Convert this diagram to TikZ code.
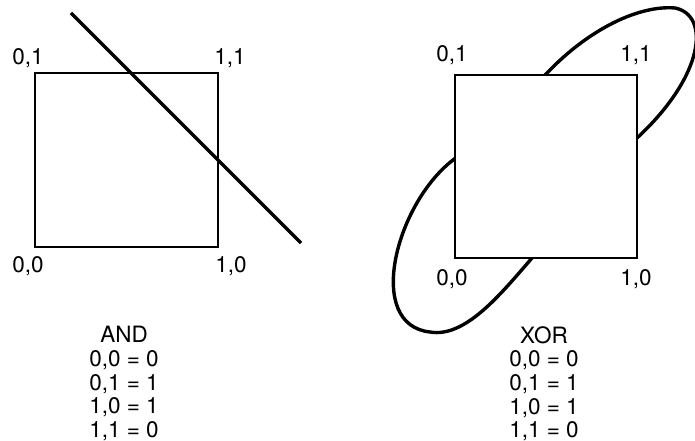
\documentclass[tikz,border=0pt]{standalone}
\usepackage{fontspec}
\setmainfont{TeX Gyre Heros}
\usepackage{tikz}

\begin{document}
\begin{tikzpicture}[x=1pt,y=-1pt,line width=2.8pt,
    every node/.style={inner sep=0pt,font=\fontsize{22.5}{23.6}\selectfont},
    corner/.style={anchor=base},
    table/.style={anchor=north,align=center},
    box/.style={draw,fill=white},
    curve/.style={line width=3.4pt,line join=round}]
  \useasboundingbox (0,0) rectangle (695,441);

  % AND: one straight cut
  \draw[box] (35,73) rectangle (218,247);
  \coordinate (cutA) at (71,13);
  \coordinate (cutB) at (301,243);
  \draw[curve] (cutA) -- (cutB);
  \foreach \name/\x/\y/\txt in {a01/28/65/{0,1},a11/230/65/{1,1},
                                a00/28/272/{0,0},a10/231/272/{1,0}}{
    \node[corner] (\name) at (\x,\y) {\txt};
  }
  \node[table] (andtab) at (124,325) {AND\\0,0 = 0\\0,1 = 1\\1,0 = 1\\1,1 = 0};

  % XOR: no straight cut, an oval instead (ends hidden under the box)
  \draw[curve] (472,145) -- (453,160)
    .. controls (395,205) and (365,325) .. (430,332)
    .. controls (465,338) and (500,295) .. (532,258) -- (548,240);
  \draw[curve] (530,91) -- (547,73)
    .. controls (590,28) and (640,5) .. (675,8)
    .. controls (710,15) and (705,75) .. (637,138) -- (615,158);
  \draw[box] (455,75) rectangle (637,258);
  \foreach \name/\x/\y/\txt in {x01/452/62/{0,1},x11/636/62/{1,1},
                                x00/452/285/{0,0},x10/636/285/{1,0}}{
    \node[corner] (\name) at (\x,\y) {\txt};
  }
  \node[table] (xortab) at (544,325) {XOR\\0,0 = 0\\0,1 = 1\\1,0 = 1\\1,1 = 0};
\end{tikzpicture}
\end{document}
